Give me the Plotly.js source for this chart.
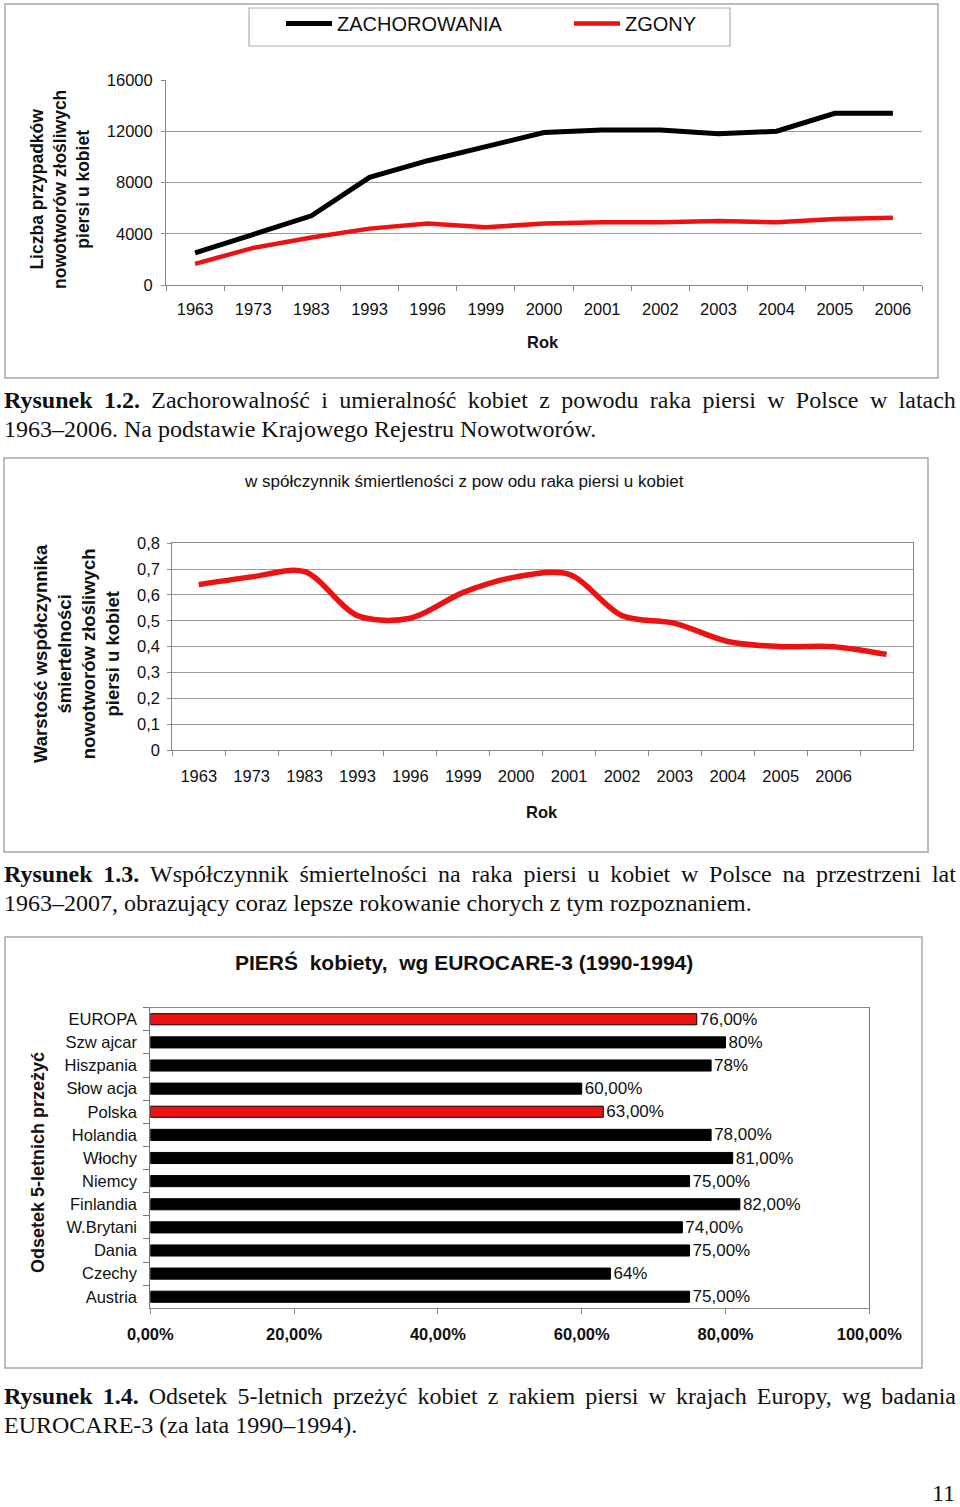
<!DOCTYPE html>
<html>
<head>
<meta charset="utf-8">
<script src="https://cdn.plot.ly/plotly-3.0.1.min.js"></script>
<style>
html,body{margin:0;padding:0;background:#fff;overflow:hidden;}
#wrap{position:relative;width:960px;height:1507px;overflow:hidden;background:#fff;}
#chart{position:absolute;left:0;top:0;width:960px;height:1507px;}
.cap{position:absolute;left:4px;width:952px;font-family:'Liberation Serif','Times New Roman',serif;font-size:24px;line-height:29px;color:#111;}
.cap .j{display:flex;justify-content:space-between;white-space:nowrap;}
.cap .l{white-space:nowrap;}
.pg{position:absolute;right:5px;top:1480px;font-family:'Liberation Serif','Times New Roman',serif;font-size:24px;color:#111;}
</style>
</head>
<body>
<div id="wrap">
  <div id="chart"></div>
  <div class="pg">11</div>
</div>
<script>
// ---------- DATA ----------
const years1 = ['1963','1973','1983','1993','1996','1999','2000','2001','2002','2003','2004','2005','2006'];
const zachorowania = [2500,4000,5400,8400,9700,10800,11900,12100,12100,11800,12000,13400,13400];
const zgony = [1650,2900,3700,4400,4800,4500,4800,4900,4900,5000,4900,5150,5250];

const years2 = ['1963','1973','1983','1993','1996','1999','2000','2001','2002','2003','2004','2005','2006','2007'];
const yearLabels2 = ['1963','1973','1983','1993','1996','1999','2000','2001','2002','2003','2004','2005','2006',''];
const wspolczynnik = [0.64,0.67,0.69,0.52,0.51,0.61,0.67,0.68,0.52,0.49,0.42,0.40,0.40,0.37];

const countries = ['EUROPA','Szw ajcar','Hiszpania','Słow acja','Polska','Holandia','Włochy','Niemcy','Finlandia','W.Brytani','Dania','Czechy','Austria'];
const survival = [0.76,0.80,0.78,0.60,0.63,0.78,0.81,0.75,0.82,0.74,0.75,0.64,0.75];
const survivalLabels = ['76,00%','80%','78%','60,00%','63,00%','78,00%','81,00%','75,00%','82,00%','74,00%','75,00%','64%','75,00%'];
const highlighted = ['EUROPA','Polska'];

const captions = [
  {top:386, bold:'Rysunek 1.2.', line1:'Zachorowalność i umieralność kobiet z powodu raka piersi w Polsce w latach', line2:'1963–2006. Na podstawie Krajowego Rejestru Nowotworów.'},
  {top:860, bold:'Rysunek 1.3.', line1:'Współczynnik śmiertelności na raka piersi u kobiet w Polsce na przestrzeni lat', line2:'1963–2007, obrazujący coraz lepsze rokowanie chorych z tym rozpoznaniem.'},
  {top:1382, bold:'Rysunek 1.4.', line1:'Odsetek 5-letnich przeżyć kobiet z rakiem piersi w krajach Europy, wg badania', line2:'EUROCARE-3 (za lata 1990–1994).'}
];

// ---------- HELPERS ----------
const W = 960, H = 1507;
const X = px => px / W;
const Y = py => 1 - py / H;
const RED = '#ee1111';
const FONT = 'Liberation Sans, Arial, sans-serif';

// ---------- CAPTIONS ----------
const wrap = document.getElementById('wrap');
captions.forEach(c => {
  const d = document.createElement('div');
  d.className = 'cap';
  d.style.top = c.top + 'px';
  const j = document.createElement('div');
  j.className = 'j';
  c.bold.split(' ').forEach(w => { const b = document.createElement('b'); b.textContent = w; j.appendChild(b); });
  c.line1.split(' ').forEach(w => { const s = document.createElement('span'); s.textContent = w; j.appendChild(s); });
  const l = document.createElement('div');
  l.className = 'l';
  l.textContent = c.line2;
  d.appendChild(j); d.appendChild(l);
  wrap.appendChild(d);
});

// ---------- TRACES ----------
const traces = [
  {type:'scatter', mode:'lines', x:years1, y:zachorowania, name:'ZACHOROWANIA',
   line:{color:'#000', width:5}, xaxis:'x', yaxis:'y'},
  {type:'scatter', mode:'lines', x:years1, y:zgony, name:'ZGONY',
   line:{color:RED, width:4.5}, xaxis:'x', yaxis:'y'},
  {type:'scatter', mode:'lines', x:years2, y:wspolczynnik, showlegend:false,
   line:{color:RED, width:5.5, shape:'spline', smoothing:0.9}, xaxis:'x2', yaxis:'y2'},
  {type:'bar', orientation:'h', x:survival, y:countries, showlegend:false,
   text:survivalLabels, textposition:'outside', cliponaxis:false, constraintext:'none',
   textfont:{size:17, color:'#111', family:FONT},
   marker:{color:countries.map(c => highlighted.includes(c) ? RED : '#000'), line:{color:'#000', width:1}},
   width:0.48, xaxis:'x3', yaxis:'y3', hoverinfo:'skip'}
];

const tf = {size:16.5, color:'#111', family:FONT};

const layout = {
  width:W, height:H, margin:{l:0,r:0,t:0,b:0,autoexpand:false},
  paper_bgcolor:'#fff', plot_bgcolor:'rgba(0,0,0,0)',
  separators:', ',
  font:{family:FONT, color:'#111', size:16},
  showlegend:true,
  legend:{orientation:'h', x:X(281), xanchor:'left', y:Y(23.5), yanchor:'middle',
          entrywidth:227, entrywidthmode:'pixels', itemwidth:46,
          font:{size:20, color:'#111', family:FONT}, bgcolor:'rgba(0,0,0,0)', borderwidth:0},
  // chart 1
  xaxis:{domain:[X(166),X(922)], anchor:'y', type:'category', range:[-0.5,12.5], tickson:'boundaries',
         ticks:'outside', ticklen:5, tickcolor:'#888', showline:true, linecolor:'#888',
         showgrid:false, tickfont:tf, ticklabelstandoff:9, fixedrange:true},
  yaxis:{domain:[Y(285),Y(80)], anchor:'x', range:[0,16000], dtick:4000, tick0:0, tickformat:'d',
         showgrid:true, gridcolor:'#9a9a9a', showline:true, linecolor:'#888',
         ticks:'outside', ticklen:4, tickcolor:'#888', zeroline:false, tickfont:tf,
         ticklabelstandoff:5, fixedrange:true},
  // chart 2
  xaxis2:{domain:[X(172.3),X(913)], anchor:'y2', type:'category', range:[-0.5,13.5], tickson:'boundaries',
          tickmode:'array', tickvals:years2, ticktext:yearLabels2,
          ticks:'outside', ticklen:5, tickcolor:'#888', showline:true, mirror:true, linecolor:'#888',
          showgrid:false, tickfont:tf, ticklabelstandoff:11, fixedrange:true},
  yaxis2:{domain:[Y(750),Y(543.3)], anchor:'x2', range:[0,0.8], dtick:0.1, tick0:0,
          showgrid:true, gridcolor:'#9a9a9a', showline:true, mirror:true, linecolor:'#888',
          ticks:'outside', ticklen:4, tickcolor:'#888', zeroline:false, tickfont:tf,
          ticklabelstandoff:4, fixedrange:true},
  // chart 3
  xaxis3:{domain:[X(150.3),X(869.3)], anchor:'y3', range:[0,1], dtick:0.2, tick0:0,
          tickformat:'.2%', showgrid:false, zeroline:false, showline:true, mirror:true,
          linecolor:'#888', ticks:'outside', ticklen:5, tickcolor:'#888',
          tickfont:{size:16.5, color:'#111', family:FONT, weight:700}, ticklabelstandoff:6, fixedrange:true},
  yaxis3:{domain:[Y(1308.3),Y(1007.7)], anchor:'x3', type:'category', autorange:'reversed',
          categoryorder:'array', categoryarray:countries, tickson:'boundaries',
          ticks:'outside', ticklen:6, tickcolor:'#777', showline:true, mirror:true, linecolor:'#777',
          showgrid:false, tickfont:tf, ticklabelstandoff:9, fixedrange:true},
  shapes:[
    {type:'rect', xref:'paper', yref:'paper', x0:X(5), x1:X(938), y0:Y(4), y1:Y(378), line:{color:'#a8a8a8', width:1.5}, layer:'below'},
    {type:'rect', xref:'paper', yref:'paper', x0:X(249), x1:X(730), y0:Y(8), y1:Y(46), line:{color:'#b0b0b0', width:1.2}, layer:'below'},
    {type:'rect', xref:'paper', yref:'paper', x0:X(4), x1:X(928), y0:Y(458), y1:Y(852), line:{color:'#a8a8a8', width:1.5}, layer:'below'},
    {type:'rect', xref:'paper', yref:'paper', x0:X(5), x1:X(922), y0:Y(937), y1:Y(1368), line:{color:'#a8a8a8', width:1.5}, layer:'below'}
  ],
  annotations:[
    {xref:'paper', yref:'paper', x:X(60), y:Y(190), xanchor:'center', yanchor:'middle', textangle:-90,
     text:'<b>Liczba przypadków<br>nowotworów złośliwych<br>piersi u kobiet</b>', showarrow:false,
     font:{size:17.5, color:'#111', family:FONT}},
    {xref:'paper', yref:'paper', x:X(543), y:Y(342), xanchor:'center', yanchor:'middle',
     text:'<b>Rok</b>', showarrow:false, font:{size:16.5, color:'#111', family:FONT}},
    {xref:'paper', yref:'paper', x:X(463.5), y:Y(481), xanchor:'center', yanchor:'middle',
     text:'w spółczynnik śmiertleności z pow odu raka piersi u kobiet', showarrow:false,
     font:{size:17, color:'#111', family:FONT}},
    {xref:'paper', yref:'paper', x:X(76), y:Y(654), xanchor:'center', yanchor:'middle', textangle:-90,
     text:'<b>Warstość współczynnika<br>śmiertelności<br>nowotworów złośliwych<br>piersi u kobiet</b>', showarrow:false,
     font:{size:18.5, color:'#111', family:FONT}},
    {xref:'paper', yref:'paper', x:X(542), y:Y(812), xanchor:'center', yanchor:'middle',
     text:'<b>Rok</b>', showarrow:false, font:{size:16.5, color:'#111', family:FONT}},
    {xref:'paper', yref:'paper', x:X(464), y:Y(962), xanchor:'center', yanchor:'middle',
     text:'<b>PIERŚ\u00a0 kobiety,\u00a0 wg EUROCARE-3 (1990-1994)</b>', showarrow:false,
     font:{size:21, color:'#111', family:FONT}},
    {xref:'paper', yref:'paper', x:X(38), y:Y(1163), xanchor:'center', yanchor:'middle', textangle:-90,
     text:'<b>Odsetek 5-letnich przeżyć</b>', showarrow:false,
     font:{size:18, color:'#111', family:FONT}}
  ]
};

Plotly.newPlot('chart', traces, layout, {staticPlot:true, displayModeBar:false});
</script>
</body>
</html>
